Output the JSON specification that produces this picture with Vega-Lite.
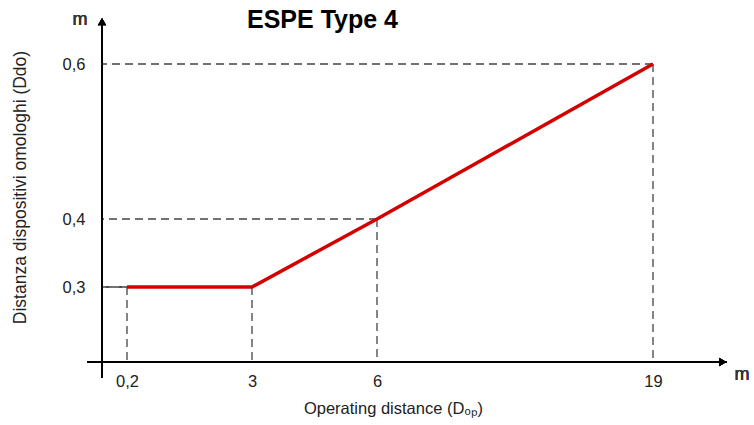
{
  "$schema": "https://vega.github.io/schema/vega-lite/v6.json",
  "width": 625,
  "height": 345,
  "autosize": "none",
  "padding": {"left": 102, "top": 17, "right": 27, "bottom": 63},
  "background": "white",
  "config": {"view": {"stroke": null}, "font": "Liberation Sans"},
  "title": {"text": "ESPE Type 4", "font": "Liberation Sans", "fontSize": 25, "fontWeight": "bold", "color": "#000", "anchor": "middle", "frame": "group", "dx": -92, "offset": -20, "dy": 14, "baseline": "middle"},
  "datasets": {
    "pts": [
      {"x": 0.2, "y": 0.3},
      {"x": 3, "y": 0.3},
      {"x": 6, "y": 0.4},
      {"x": 19, "y": 0.6}
    ]
  },
  "data": {"name": "pts"},
  "layer": [
    {
      "mark": {"type": "rule", "color": "#444", "strokeWidth": 1.3, "strokeDash": [8, 5]},
      "encoding": {
        "x": {"field": "x", "type": "quantitative",
          "scale": {"domain": [0, 0.2, 3, 6, 19, 22.5], "range": [0, 25, 150, 275, 551, 625], "nice": false, "zero": false},
          "axis": {"values": [0.2, 3, 6, 19], "labelExpr": "replace(format(datum.value, '~g'), '.', ',')", "grid": false, "ticks": false, "domain": false, "labelFontSize": 16.5, "labelColor": "#222", "labelPadding": 11, "labelFont": "Liberation Sans",
            "title": "Operating distance (Dₒₚ)", "titleFontSize": 16.5, "titleFontWeight": "normal", "titleColor": "#222", "titleX": 291, "titleY": 46, "titleBaseline": "middle", "titleAlign": "center", "titleFont": "Liberation Sans"}},
        "x2": {"datum": 0},
        "y": {"field": "y", "type": "quantitative",
          "scale": {"domain": [0.2, 0.3, 0.4, 0.6, 0.661], "range": [345, 270, 202, 47, 0], "nice": false, "zero": false},
          "axis": {"values": [0.3, 0.4, 0.6], "labelExpr": "replace(format(datum.value, '.1f'), '.', ',')", "grid": false, "ticks": false, "domain": false, "labelFontSize": 16.5, "labelColor": "#222", "labelPadding": 17, "labelFont": "Liberation Sans",
            "title": "Distanza dispositivi omologhi (Ddo)", "titleFontSize": 17.5, "titleFontWeight": "normal", "titleColor": "#222", "titleX": -82, "titleY": 170, "titleAngle": -90, "titleBaseline": "middle", "titleAlign": "center", "titleFont": "Liberation Sans"}}
      }
    },
    {
      "mark": {"type": "rule", "color": "#444", "strokeWidth": 1.3, "strokeDash": [8, 5]},
      "encoding": {
        "x": {"field": "x", "type": "quantitative"},
        "y": {"field": "y", "type": "quantitative"},
        "y2": {"datum": 0.2}
      }
    },
    {
      "mark": {"type": "rule", "color": "#000", "strokeWidth": 2},
      "encoding": {
        "x": {"datum": -0.12, "type": "quantitative"},
        "x2": {"datum": 22.5},
        "y": {"datum": 0.2, "type": "quantitative"}
      }
    },
    {
      "mark": {"type": "rule", "color": "#000", "strokeWidth": 2},
      "encoding": {
        "x": {"datum": 0, "type": "quantitative"},
        "y": {"datum": 0.1787, "type": "quantitative"},
        "y2": {"datum": 0.655}
      }
    },
    {
      "mark": {"type": "point", "shape": "triangle-up", "filled": true, "color": "#000", "size": 70, "opacity": 1},
      "encoding": {
        "x": {"datum": 0, "type": "quantitative"},
        "y": {"datum": 0.655, "type": "quantitative"}
      }
    },
    {
      "mark": {"type": "point", "shape": "triangle-right", "filled": true, "color": "#000", "size": 70, "opacity": 1},
      "encoding": {
        "x": {"datum": 22.3, "type": "quantitative"},
        "y": {"datum": 0.2, "type": "quantitative"}
      }
    },
    {
      "mark": {"type": "text", "text": "m", "fontSize": 18, "fontWeight": "normal", "font": "Liberation Sans", "color": "#333", "dx": -22, "dy": 3},
      "encoding": {
        "x": {"datum": 0, "type": "quantitative"},
        "y": {"datum": 0.661, "type": "quantitative"}
      }
    },
    {
      "mark": {"type": "text", "text": "m", "fontSize": 18, "fontWeight": "normal", "font": "Liberation Sans", "color": "#333", "dx": 15, "dy": 13},
      "encoding": {
        "x": {"datum": 22.5, "type": "quantitative"},
        "y": {"datum": 0.2, "type": "quantitative"}
      }
    },
    {
      "mark": {"type": "line", "color": "#d40000", "strokeWidth": 3.5},
      "encoding": {
        "x": {"field": "x", "type": "quantitative"},
        "y": {"field": "y", "type": "quantitative"}
      }
    }
  ]
}
